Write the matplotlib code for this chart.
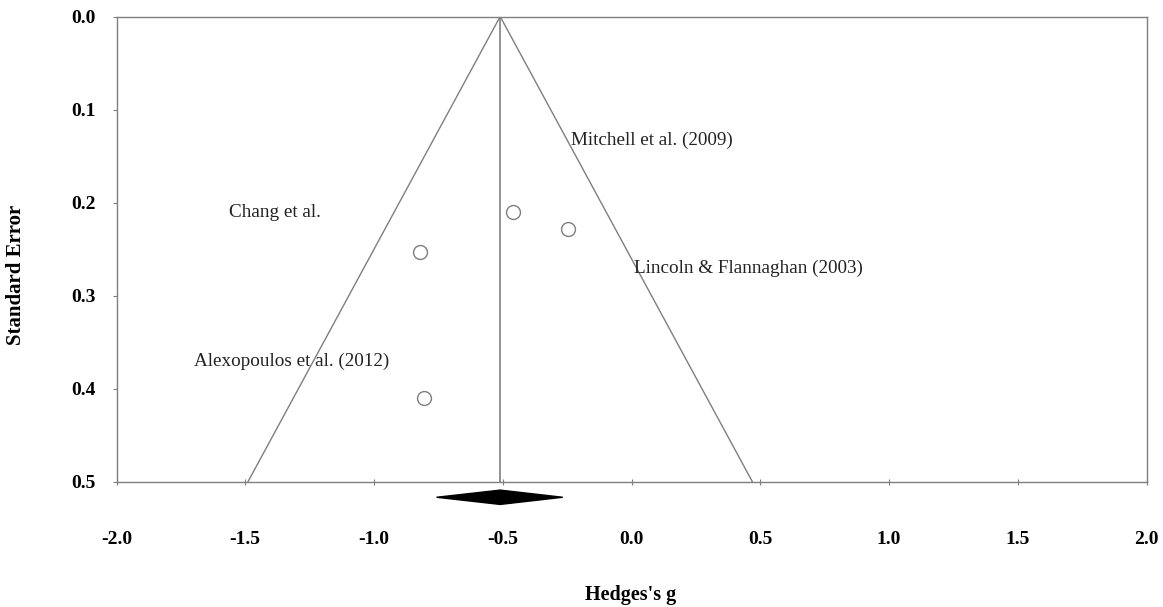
import matplotlib
matplotlib.use("Agg")
import matplotlib.pyplot as plt
import numpy as np

# Data
studies = ["Mitchell et al. (2009)", "Lincoln & Flannaghan (2003)", "Chang et al.", "Alexopoulos et al. (2012)"]
hedges_g = [-0.46, -0.245, -0.82, -0.805]
std_err = [0.210, 0.228, 0.253, 0.410]
label_x = [-0.235, 0.01, -1.563, -1.70]
label_y = [0.133, 0.271, 0.210, 0.370]
pooled_g = -0.51
pooled_ci = [-0.757, -0.267]
x_ticks = [-2.0, -1.5, -1.0, -0.5, 0.0, 0.5, 1.0, 1.5, 2.0]
y_ticks = [0.0, 0.1, 0.2, 0.3, 0.4, 0.5]

serif = ["Liberation Serif", "DejaVu Serif"]
plt.rcParams['font.family'] = serif

fig = plt.figure(figsize=(11.63, 6.07), dpi=100)
W, H = 1163, 607
ax = fig.add_axes([116.5 / W, 1 - 482 / H, (1146.5 - 116.5) / W, (482 - 16.5) / H])

grey = "#7f7f7f"
# funnel
se_max = 0.5
ax.plot([pooled_g - 1.96 * se_max, pooled_g, pooled_g + 1.96 * se_max], [se_max, 0, se_max],
        color=grey, lw=1.0)
ax.plot([pooled_g, pooled_g], [0, se_max], color=grey, lw=1.2)

ax.plot(hedges_g, std_err, 'o', ms=10, mfc='white', mec=grey, mew=1.0, ls='none')

for s, lx, ly in zip(studies, label_x, label_y):
    ax.text(lx, ly, s, fontsize=13.8, va='center', ha='left', color='#222222')

# diamond
dh = 0.0077
ax.fill([pooled_ci[0], pooled_g, pooled_ci[1], pooled_g],
        [0.5164, 0.5164 - dh, 0.5164, 0.5164 + dh], color='black', clip_on=False)

ax.set_xlim(-2.0, 2.0)
ax.set_ylim(0.5, 0.0)
ax.set_xticks(x_ticks)
ax.set_yticks(y_ticks)
ax.set_xticklabels([f"{v:.1f}" for v in x_ticks], fontsize=14, fontweight='bold')
ax.set_yticklabels([f"{v:.1f}" for v in y_ticks], fontsize=14, fontweight='bold')
ax.tick_params(axis='x', direction='inout', length=5, width=0.8, color=grey, pad=33)
ax.tick_params(axis='y', direction='out', length=3, width=0.8, color=grey, pad=12)
for sp in ax.spines.values():
    sp.set_color(grey)
    sp.set_linewidth(1.0)

fig.text(16 / W, 1 - 275 / H, "Standard Error", rotation=90, ha='center', va='center',
         fontsize=15, fontweight='bold')
fig.text(631 / W, 1 - 595 / H, "Hedges's g", ha='center', va='center',
         fontsize=14.5, fontweight='bold')

fig.savefig("out.png", dpi=100, facecolor='white')
